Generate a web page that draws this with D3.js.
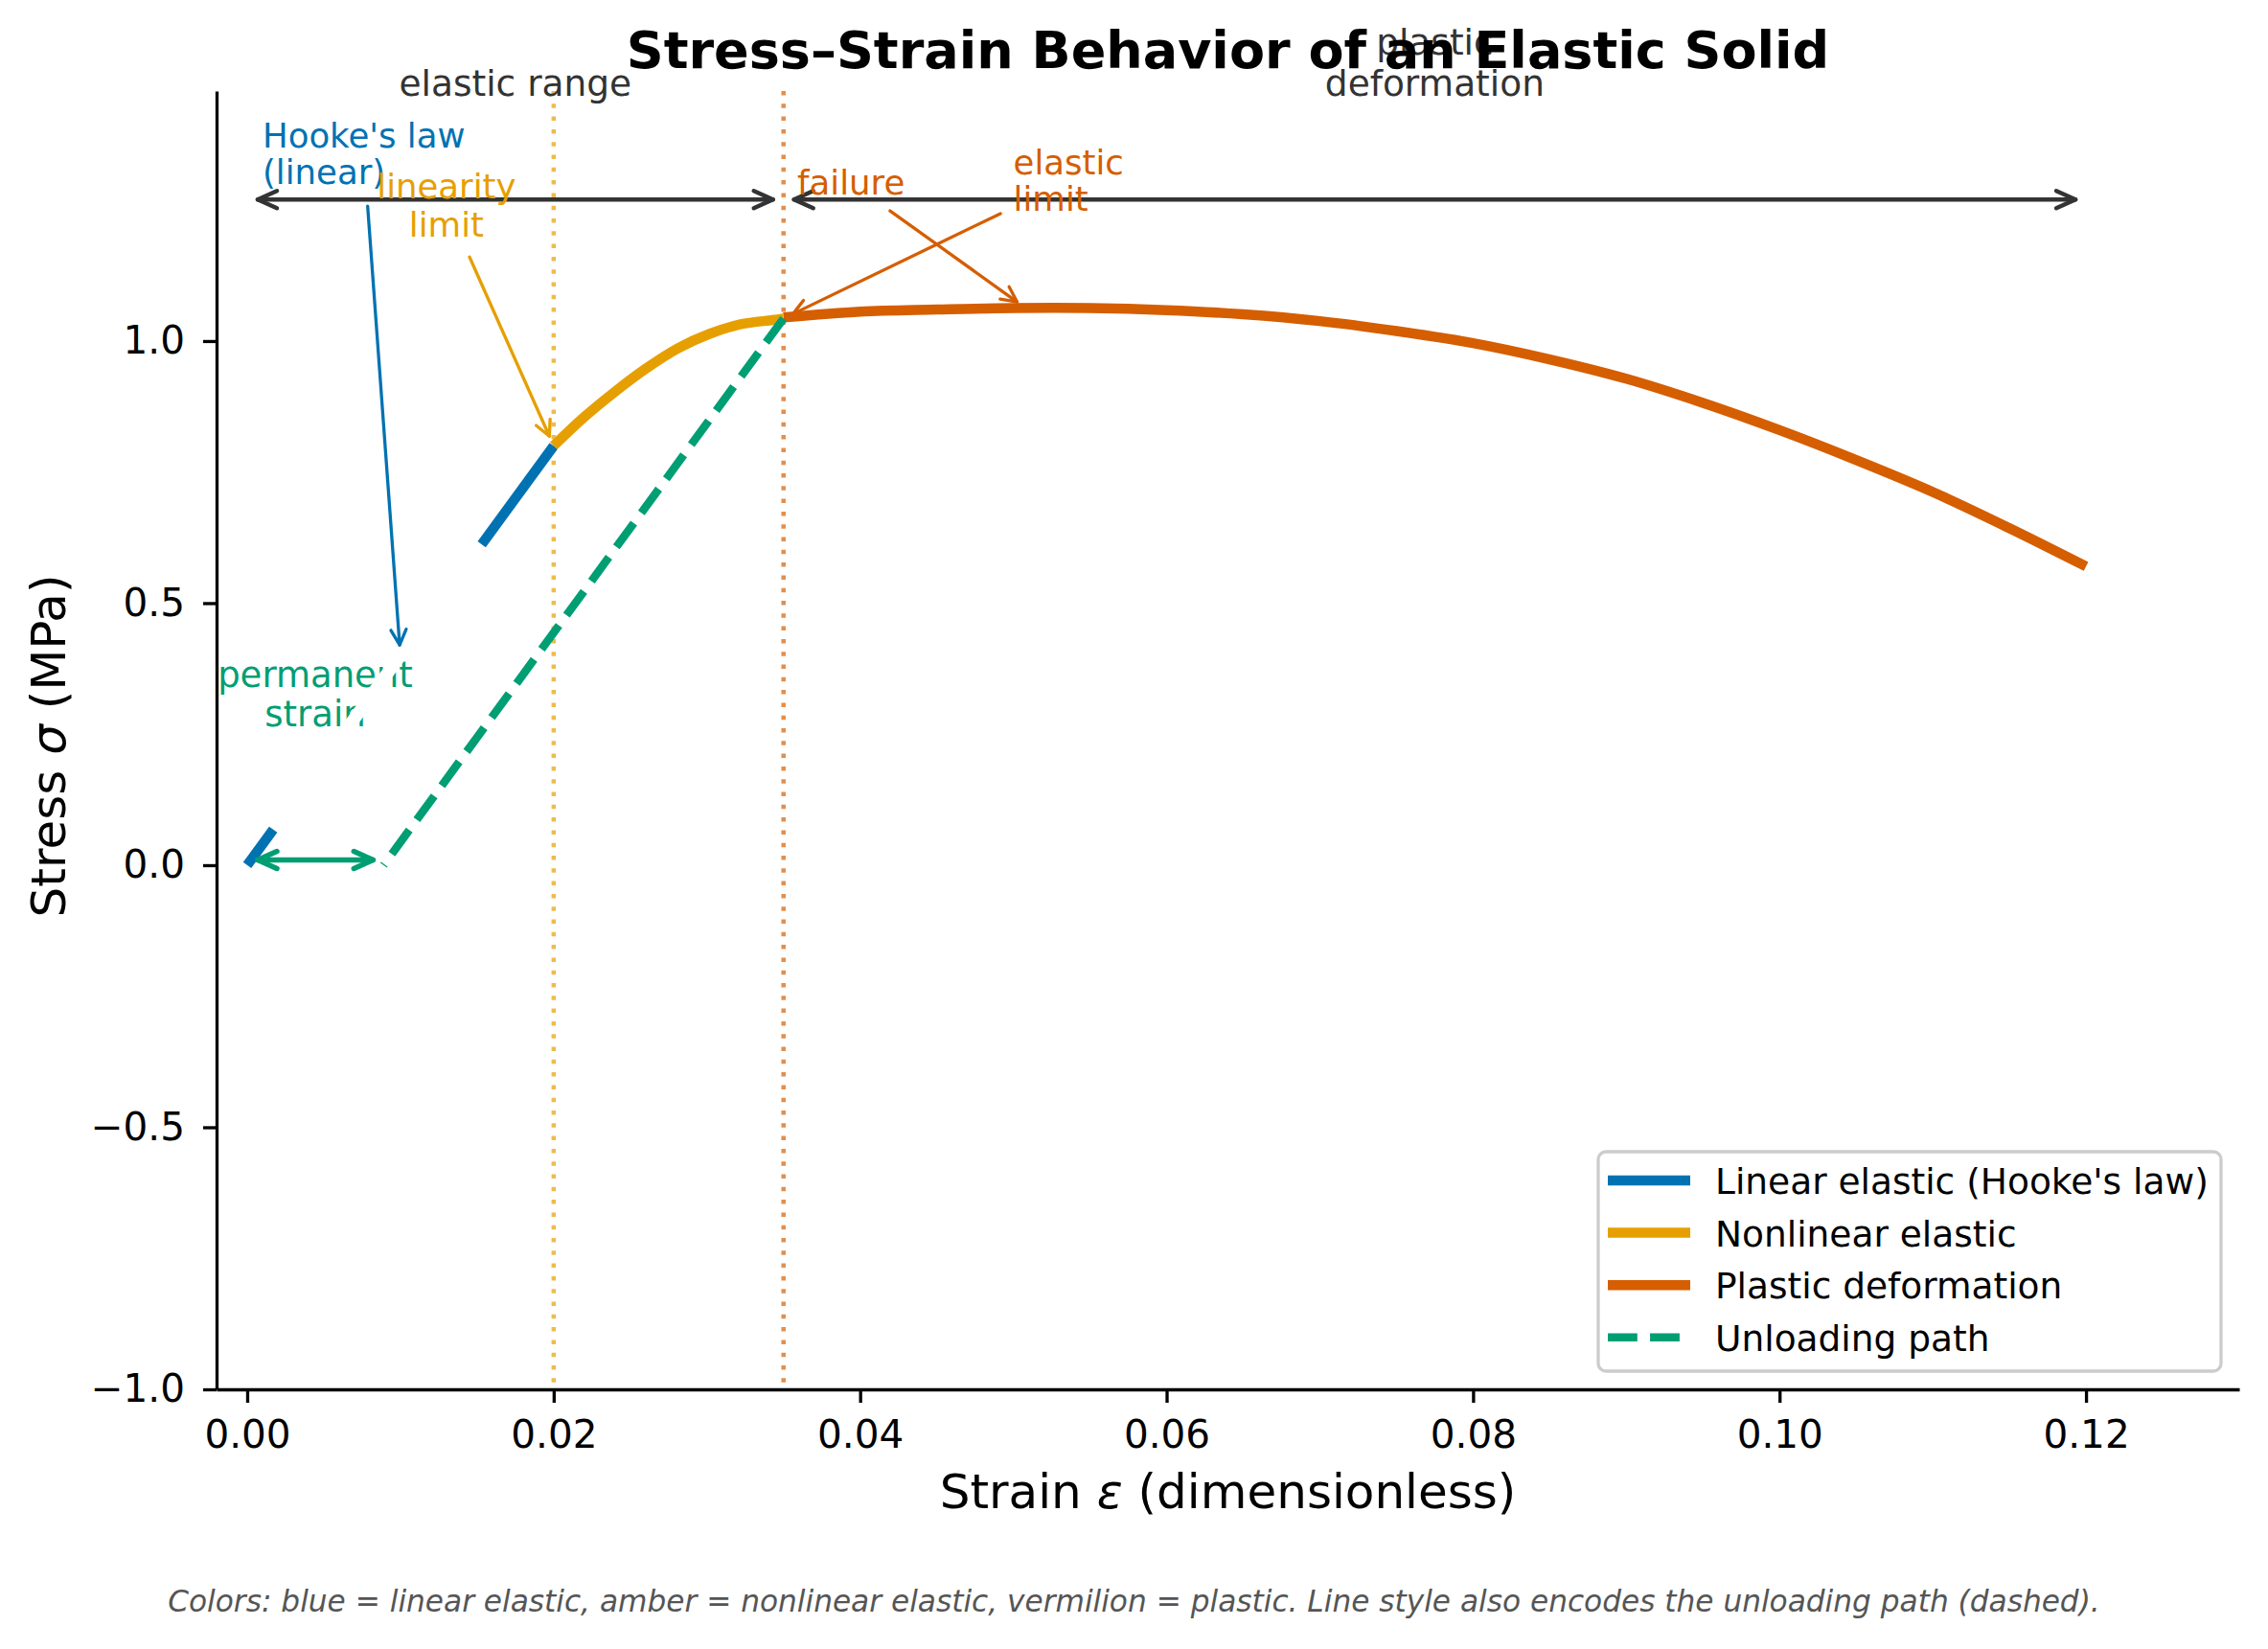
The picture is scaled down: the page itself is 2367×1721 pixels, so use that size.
<!DOCTYPE html>
<html>
<head>
<meta charset="utf-8">
<script src="https://cdn.jsdelivr.net/npm/d3@7"></script>
<style>
  body { margin: 0; background: #fff; }
  svg text { font-family: "DejaVu Sans", sans-serif; }
</style>
</head>
<body>
<div id="chart"></div>
<script>
// ---- values ----
var linearX = [0, 0.02];
var linearY = [0, 0.8];
// middle part of the linear line is blanked out in the original
var linearGapX = [0.0017, 0.0153];
var linearGapY = [0.068, 0.612];

var nonlinX = [0.020, 0.0218, 0.0239, 0.026, 0.0281, 0.0302, 0.0322, 0.0343, 0.035];
var nonlinY = [0.800, 0.850, 0.901, 0.947, 0.986, 1.014, 1.032, 1.040, 1.043];

var plasticX = [0.035, 0.04, 0.045, 0.05, 0.055, 0.06, 0.065, 0.07, 0.075, 0.08,
                0.085, 0.09, 0.095, 0.10, 0.105, 0.11, 0.115, 0.12];
var plasticY = [1.045, 1.056, 1.060, 1.063, 1.063, 1.059, 1.051, 1.038, 1.019, 0.996,
                0.965, 0.928, 0.882, 0.830, 0.773, 0.712, 0.643, 0.570];

var unloadX = [0.035, 0.0089];
var unloadY = [1.043, 0];

var xTicks = [0, 0.02, 0.04, 0.06, 0.08, 0.10, 0.12];
var yTicks = [-1, -0.5, 0, 0.5, 1];
var xDomain = [-0.002, 0.13];
var yDomain = [-1, 1.477];

var limitLines = [0.02, 0.035];
var rangeSpans = [[0, 0.035], [0.035, 0.12]];
var rangeLabels = ["elastic range", "plastic\ndeformation"];
var rangeArrowY = 1.27;
var rangeLabelY = 1.468;

var seriesNames = ["Linear elastic (Hooke's law)", "Nonlinear elastic", "Plastic deformation", "Unloading path"];

var annoTexts = ["Hooke's law\n(linear)", "linearity\nlimit", "failure", "elastic\nlimit", "permanent\nstrain"];
var annoTextX = [0.001, 0.013, 0.0359, 0.05, 0.00444];
var annoTextY = [1.369, 1.273, 1.279, 1.318, 0.340];
var annoPointX = [0.01, 0.02, 0.0508, 0.035, null];
var annoPointY = [0.4, 0.8, 1.063, 1.043, null];

var strainArrowX = [0, 0.0089];
var strainArrowY = 0.01;

// ---- styling ----
var BLUE = "#0072B2", AMBER = "#E69F00", VERM = "#D55E00", GREEN = "#009E73", DARK = "#333333";
var annoColors = [BLUE, AMBER, VERM, VERM, GREEN];
var annoAnchor = ["start", "middle", "start", "start", "middle"];
var annoSize = [35.5, 35.5, 35.5, 35.5, 37];
var annoLineGap = [38, 40, 0, 38, 41];

var W = 2367, H = 1721;
var margin = {top: 95, right: 30, bottom: 271, left: 226};

var svg = d3.select("#chart").append("svg")
  .attr("width", W).attr("height", H)
  .style("background", "#fff");

var x = d3.scaleLinear().domain(xDomain).range([margin.left, W - margin.right]);
var y = d3.scaleLinear().domain(yDomain).range([H - margin.bottom, margin.top]);

// axes
var gx = svg.append("g")
  .attr("transform", "translate(0," + (H - margin.bottom) + ")")
  .call(d3.axisBottom(x).tickValues(xTicks).tickFormat(d3.format(".2f"))
    .tickSize(14).tickPadding(18).tickSizeOuter(0));
var gy = svg.append("g")
  .attr("transform", "translate(" + margin.left + ",0)")
  .call(d3.axisLeft(y).tickValues(yTicks).tickFormat(d3.format(".1f"))
    .tickSize(14).tickPadding(19).tickSizeOuter(0));
[gx, gy].forEach(function (g) {
  g.select(".domain").attr("stroke", "#000").attr("stroke-width", 3.3);
  g.selectAll(".tick line").attr("stroke", "#000").attr("stroke-width", 3.3);
  g.selectAll(".tick text").attr("font-size", 40.5).attr("fill", "#000")
    .style("font-family", "DejaVu Sans");
});

// vertical dotted limit lines
svg.selectAll(".limit").data(limitLines).enter().append("line")
  .attr("class", "limit")
  .attr("x1", function (d) { return x(d); }).attr("x2", function (d) { return x(d); })
  .attr("y1", margin.top).attr("y2", H - margin.bottom)
  .attr("stroke", function (d, i) { return i === 0 ? AMBER : VERM; })
  .attr("stroke-opacity", 0.7)
  .attr("stroke-width", 4.5)
  .attr("stroke-dasharray", "4.5,8.8");

function pts(xs, ys) { return xs.map(function (v, i) { return [v, ys[i]]; }); }

var lineStraight = d3.line().x(function (d) { return x(d[0]); }).y(function (d) { return y(d[1]); });
var lineSmooth = d3.line().x(function (d) { return x(d[0]); }).y(function (d) { return y(d[1]); })
  .curve(d3.curveCatmullRom.alpha(0.5));

var LW = 10.5;
svg.append("path").attr("d", lineStraight(pts(linearX, linearY)))
  .attr("fill", "none").attr("stroke", BLUE).attr("stroke-width", LW);
svg.append("path").attr("d", lineSmooth(pts(nonlinX, nonlinY)))
  .attr("fill", "none").attr("stroke", AMBER).attr("stroke-width", LW);
svg.append("path").attr("d", lineSmooth(pts(plasticX, plasticY)))
  .attr("fill", "none").attr("stroke", VERM).attr("stroke-width", LW);
svg.append("path").attr("d", lineStraight(pts(unloadX, unloadY)))
  .attr("fill", "none").attr("stroke", GREEN).attr("stroke-width", 8.5)
  .attr("stroke-dasharray", "30.8,13.3");

// arrow helper: line from p0 to p1, open head(s)
function arrow(g, p0, p1, o) {
  var dx = p1[0] - p0[0], dy = p1[1] - p0[1], L = Math.hypot(dx, dy);
  var ux = dx / L, uy = dy / L;
  g.append("line")
    .attr("x1", p0[0]).attr("y1", p0[1]).attr("x2", p1[0]).attr("y2", p1[1])
    .attr("stroke", o.color).attr("stroke-width", o.width).attr("stroke-linecap", "round");
  function head(tip, vx, vy) {
    var bx = tip[0] - vx * o.hl, by = tip[1] - vy * o.hl;
    var px = -vy * o.hw, py = vx * o.hw;
    g.append("path")
      .attr("d", "M" + (bx + px) + "," + (by + py) + "L" + tip[0] + "," + tip[1] + "L" + (bx - px) + "," + (by - py))
      .attr("fill", "none").attr("stroke", o.color).attr("stroke-width", o.width)
      .attr("stroke-linecap", "round").attr("stroke-linejoin", "round");
  }
  head(p1, ux, uy);
  if (o.both) head(p0, -ux, -uy);
}

// range arrows + labels
var rangeG = svg.append("g");
rangeSpans.forEach(function (s, i) {
  var yy = y(rangeArrowY);
  arrow(rangeG, [x(s[0]) + 11, yy], [x(s[1]) - 11, yy], {color: DARK, width: 4.5, hl: 20, hw: 9, both: true});
  var lines = rangeLabels[i].split("\n");
  var t = rangeG.append("text")
    .attr("x", x((s[0] + s[1]) / 2))
    .attr("y", y(rangeLabelY) - (lines.length - 1) * 43)
    .attr("text-anchor", "middle").attr("font-size", 37.5).attr("fill", DARK);
  lines.forEach(function (l, k) {
    t.append("tspan").attr("x", x((s[0] + s[1]) / 2)).attr("dy", k === 0 ? 0 : 43).text(l);
  });
});

// annotation texts
var annoG = svg.append("g");
var annoBoxes = annoTexts.map(function (txt, i) {
  var lines = txt.split("\n");
  var t = annoG.append("text")
    .attr("x", x(annoTextX[i])).attr("y", y(annoTextY[i]))
    .attr("text-anchor", annoAnchor[i]).attr("font-size", annoSize[i]).attr("fill", annoColors[i]);
  lines.forEach(function (l, k) {
    t.append("tspan").attr("x", x(annoTextX[i])).attr("dy", k === 0 ? 0 : annoLineGap[i]).text(l);
  });
  return t.node().getBBox();
});

// white band over the middle of the linear segment (also cuts the green label)
svg.append("path").attr("d", lineStraight(pts(linearGapX, linearGapY)))
  .attr("stroke", "#fff").attr("stroke-width", 13);

// annotation arrows: from label box toward the point
var arrowG = svg.append("g");
annoTexts.forEach(function (txt, i) {
  if (annoPointX[i] === null) return;
  var b = annoBoxes[i];
  var cx = b.x + b.width / 2, cy = b.y + b.height / 2;
  var px = x(annoPointX[i]), py = y(annoPointY[i]);
  var dx = px - cx, dy = py - cy, L = Math.hypot(dx, dy), ux = dx / L, uy = dy / L;
  var tx = ux !== 0 ? (b.width / 2) / Math.abs(ux) : Infinity;
  var ty = uy !== 0 ? (b.height / 2) / Math.abs(uy) : Infinity;
  var t0 = Math.min(tx, ty) + 15;
  arrow(arrowG, [cx + ux * t0, cy + uy * t0], [px - ux * 11, py - uy * 11],
    {color: annoColors[i], width: 3.3, hl: 16, hw: 8, both: false});
});

// permanent strain double arrow
arrow(arrowG, [x(strainArrowX[0]) + 11, y(strainArrowY)], [x(strainArrowX[1]) - 11, y(strainArrowY)],
  {color: GREEN, width: 5.5, hl: 20, hw: 9, both: true});

// legend
var leg = svg.append("g");
leg.append("rect").attr("x", 1668).attr("y", 1202).attr("width", 650).attr("height", 229)
  .attr("rx", 8).attr("fill", "#fff").attr("fill-opacity", 0.8)
  .attr("stroke", "#cccccc").attr("stroke-width", 3.3);
var legColors = [BLUE, AMBER, VERM, GREEN];
seriesNames.forEach(function (name, i) {
  var cy = 1232 + i * 54.6;
  leg.append("line").attr("x1", 1678).attr("x2", 1764).attr("y1", cy).attr("y2", cy)
    .attr("stroke", legColors[i]).attr("stroke-width", i === 3 ? 8.5 : LW)
    .attr("stroke-dasharray", i === 3 ? "30.8,13.3" : null);
  leg.append("text").attr("x", 1790).attr("y", cy).attr("dy", "0.38em")
    .attr("font-size", 37.5).attr("fill", "#000").text(name);
});

// title, axis labels, caption
svg.append("text").attr("x", (margin.left + W - margin.right) / 2).attr("y", 71)
  .attr("text-anchor", "middle").attr("font-size", 54).attr("font-weight", "bold")
  .text("Stress\u2013Strain Behavior of an Elastic Solid");

var xl = svg.append("text").attr("x", (margin.left + W - margin.right) / 2).attr("y", 1574)
  .attr("text-anchor", "middle").attr("font-size", 50).attr("fill", "#000");
xl.append("tspan").text("Strain ");
xl.append("tspan").attr("font-style", "italic").text("\u03b5");
xl.append("tspan").text(" (dimensionless)");

var yl = svg.append("text")
  .attr("transform", "translate(68," + ((margin.top + H - margin.bottom) / 2 + 6) + ") rotate(-90)")
  .attr("text-anchor", "middle").attr("font-size", 50).attr("fill", "#000");
yl.append("tspan").text("Stress ");
yl.append("tspan").attr("font-style", "italic").text("\u03c3");
yl.append("tspan").text(" (MPa)");

svg.append("text").attr("x", W / 2).attr("y", 1682)
  .attr("text-anchor", "middle").attr("font-size", 31.2).attr("font-style", "italic").attr("fill", "#555")
  .text("Colors: blue = linear elastic, amber = nonlinear elastic, vermilion = plastic. Line style also encodes the unloading path (dashed).");
</script>
</body>
</html>
